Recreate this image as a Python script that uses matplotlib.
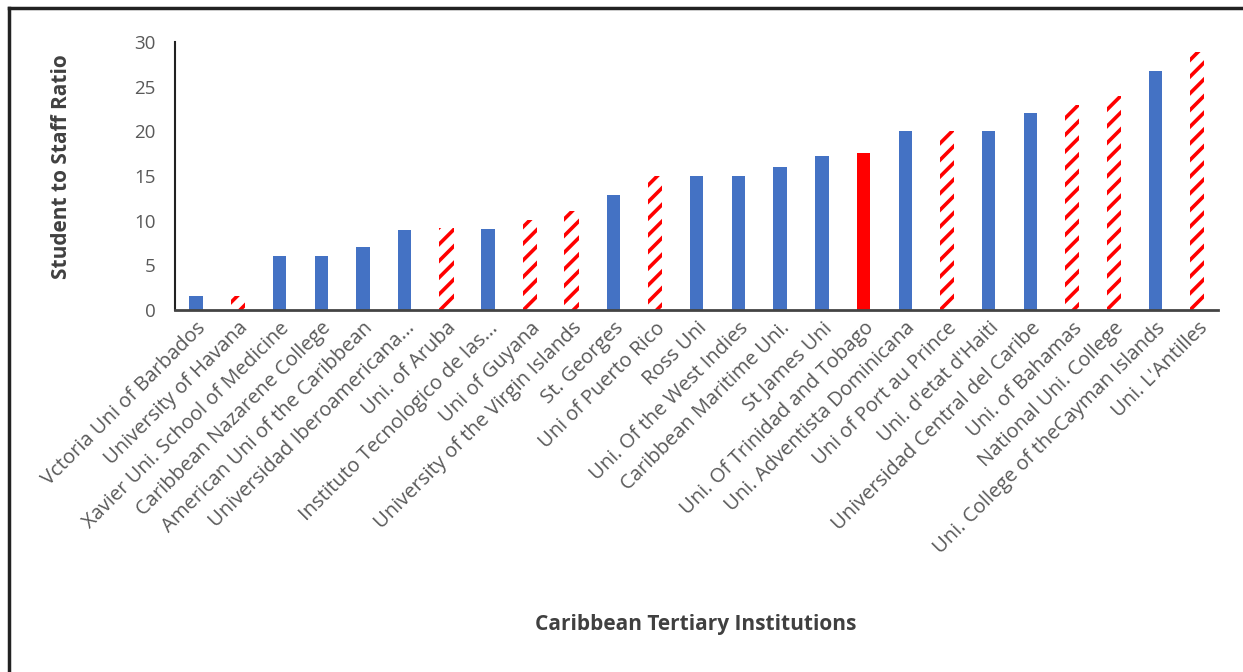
import matplotlib.pyplot as plt
from matplotlib.lines import Line2D

# institutions, in chart order
names = ["Vctoria Uni of Barbados", "University of Havana", "Xavier Uni. School of Medicine",
         "Caribbean Nazarene College", "American Uni of the Caribbean",
         "Universidad Iberoamericana...", "Uni. of Aruba", "Instituto Tecnologico de las...",
         "Uni of Guyana", "University of the Virgin Islands", "St. Georges", "Uni of Puerto Rico",
         "Ross Uni", "Uni. Of the West Indies", "Caribbean Maritime Uni.", "St James Uni",
         "Uni. Of Trinidad and Tobago", "Uni. Adventista Dominicana", "Uni of Port au Prince",
         "Uni. d'etat d'Haiti", "Universidad Central del Caribe", "Uni. of Bahamas",
         "National Uni. College", "Uni. College of theCayman Islands", "Uni. L'Antilles"]
ratio = [1.5, 1.6, 6, 6, 7, 8.9, 9.2, 9.1, 10.1, 11.1, 12.9, 15,
         15, 15, 16, 17.2, 17.6, 20, 20, 20, 22.1, 23, 24, 26.8, 28.9]
# kind: b = blue solid, h = red hatched, r = red solid
kind = ["b", "h", "b", "b", "b", "b", "h", "b", "h", "h", "b", "h",
        "b", "b", "b", "b", "r", "b", "h", "b", "b", "h", "h", "b", "h"]

plt.rcParams['font.family'] = ['Open Sans', 'DejaVu Sans']
plt.rcParams['hatch.linewidth'] = 2.6

fig = plt.figure(figsize=(12.43, 6.72), dpi=100)
ax = fig.add_axes([0.141, 0.539, 0.839, 0.398])

for i in range(len(names)):
    if kind[i] == "b":
        ax.bar(i, ratio[i], width=0.32, color="#4472C4", zorder=2)
    elif kind[i] == "r":
        ax.bar(i, ratio[i], width=0.32, color="#FF0000", zorder=2)
    else:
        ax.bar(i, ratio[i], width=0.34, facecolor="white", edgecolor="#FF0000",
               hatch="//", linewidth=0, zorder=2)

ax.set_xlim(-0.5, 24.5)
ax.set_ylim(0, 30)
ax.set_yticks(range(0, 31, 5))
ax.set_xticks(range(len(names)))
ax.set_xticklabels(names, rotation=45, ha="right", rotation_mode="anchor",
                   fontsize=14.5, color="#595959")
ax.tick_params(axis="y", labelsize=13.5, labelcolor="#595959", length=0, pad=14)
ax.tick_params(axis="x", length=0, pad=6)
for s in ["top", "right"]:
    ax.spines[s].set_visible(False)
ax.spines["left"].set_color("#222222")
ax.spines["left"].set_linewidth(1.5)
ax.spines["bottom"].set_color("#444444")
ax.spines["bottom"].set_linewidth(2)

ax.set_ylabel("Student to Staff Ratio", fontsize=15, fontweight="bold", color="#404040")
ax.yaxis.set_label_coords(-0.099, 0.537)
fig.text(0.56, 0.062, "Caribbean Tertiary Institutions", fontsize=15,
         fontweight="bold", color="#404040", ha="center")

# frame lines of the original screenshot
fig.add_artist(Line2D([0.007, 1.0], [0.988, 0.988], color="#222222", lw=2.5))
fig.add_artist(Line2D([0.007, 0.007], [0.0, 0.988], color="#222222", lw=2.5))

fig.savefig("out.png", dpi=100, facecolor="white")
